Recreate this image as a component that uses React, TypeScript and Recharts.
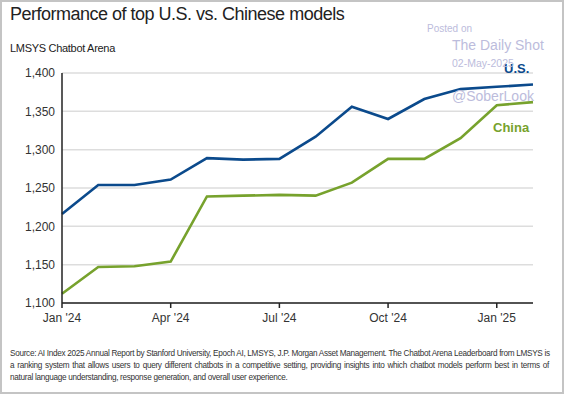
import React from "react";
import { LineChart, Line, XAxis, YAxis, CartesianGrid } from "recharts";

// month labels, Jan '24 .. Feb '25
const months = [
  "Jan '24", "Feb '24", "Mar '24", "Apr '24", "May '24", "Jun '24", "Jul '24",
  "Aug '24", "Sep '24", "Oct '24", "Nov '24", "Dec '24", "Jan '25", "Feb '25"
];
const xTicks = [0, 3, 6, 9, 12];
const yTicks = [1100, 1150, 1200, 1250, 1300, 1350, 1400];

// LMSYS Chatbot Arena scores of the best model
const usScores = [1216, 1254, 1254, 1261, 1289, 1287, 1288, 1317, 1356, 1340, 1366, 1379, 1382, 1385];
const chinaScores = [1112, 1147, 1148, 1154, 1239, 1240, 1241, 1240, 1257, 1288, 1288, 1315, 1358, 1362];

const sourceLines = [
  "Source: AI Index 2025 Annual Report by Stanford University, Epoch AI, LMSYS, J.P. Morgan Asset Management. The Chatbot Arena Leaderboard from LMSYS is",
  "a ranking system that allows users to query different chatbots in a competitive setting, providing insights into which chatbot models perform best in terms of",
  "natural language understanding, response generation, and overall user experience."
];

const BLUE = "#0b4a8c";
const GREEN = "#77a22d";
const FONT = "'Liberation Sans', Arial, sans-serif";

const data = months.map((m, i) => ({
  idx: i,
  month: m,
  us: usScores[i],
  china: chinaScores[i]
}));

const watermark: React.CSSProperties = {
  position: "absolute",
  color: "#bcbcdc",
  whiteSpace: "nowrap"
};

export default function App() {
  return (
    <div
      style={{
        position: "relative",
        width: 564,
        height: 394,
        background: "#fff",
        fontFamily: FONT,
        overflow: "hidden"
      }}
    >
      <style>{`body{margin:0}`}</style>
      <div
        style={{
          position: "absolute",
          left: 0,
          top: 0,
          width: 564,
          height: 394,
          border: "2px solid #c4c4c4",
          boxSizing: "border-box"
        }}
      />
      <div style={{ position: "absolute", left: 10, top: 4, fontSize: 18, letterSpacing: -0.5, color: "#222" }}>
        Performance of top U.S. vs. Chinese models
      </div>
      <div style={{ position: "absolute", left: 10, top: 42, fontSize: 11, letterSpacing: -0.3, color: "#222" }}>
        LMSYS Chatbot Arena
      </div>

      <div style={{ position: "absolute", left: 0, top: 0 }}>
        <LineChart
          width={564}
          height={394}
          data={data}
          margin={{ top: 73, right: 31, left: 12, bottom: 71 }}
        >
          <CartesianGrid vertical={false} stroke="#dddddd" strokeWidth={1.5} />
          <XAxis
            dataKey="idx"
            type="number"
            domain={[0, 13]}
            ticks={xTicks}
            tickFormatter={(v: number) => months[v]}
            height={20}
            tickSize={5}
            tickMargin={5}
            axisLine={{ stroke: "#222", strokeWidth: 1.5 }}
            tickLine={{ stroke: "#222", strokeWidth: 1.5 }}
            tick={{ fill: "#333", fontSize: 12 }}
          />
          <YAxis
            domain={[1100, 1400]}
            ticks={yTicks}
            width={50}
            tickSize={0}
            tickMargin={7}
            tickLine={false}
            axisLine={{ stroke: "#222", strokeWidth: 1.5 }}
            tick={{ fill: "#333", fontSize: 12 }}
            tickFormatter={(v: number) => v.toLocaleString("en-US")}
          />
          <Line
            dataKey="china"
            stroke={GREEN}
            strokeWidth={2.6}
            dot={false}
            type="linear"
            isAnimationActive={false}
          />
          <Line
            dataKey="us"
            stroke={BLUE}
            strokeWidth={2.6}
            dot={false}
            type="linear"
            isAnimationActive={false}
          />
        </LineChart>
      </div>

      <div style={{ position: "absolute", left: 504, top: 61, fontSize: 13, fontWeight: "bold", color: BLUE }}>
        U.S.
      </div>
      <div style={{ position: "absolute", left: 493, top: 120, fontSize: 13, fontWeight: "bold", color: GREEN }}>
        China
      </div>

      <div style={{ ...watermark, left: 427, top: 23, fontSize: 10 }}>Posted on</div>
      <div style={{ ...watermark, left: 452, top: 37, fontSize: 14 }}>The Daily Shot</div>
      <div style={{ ...watermark, left: 452, top: 57, fontSize: 10.5 }}>02-May-2025</div>
      <div style={{ ...watermark, left: 452, top: 88, fontSize: 14 }}>@SoberLook</div>

      <div
        style={{
          position: "absolute",
          left: 10,
          top: 348,
          width: 539,
          fontSize: 8.2,
          letterSpacing: -0.3,
          lineHeight: "11.8px",
          color: "#333",
          whiteSpace: "nowrap"
        }}
      >
        {sourceLines.map((line, i) => (
          <div
            key={i}
            style={{
              textAlign: "justify",
              textAlignLast: i < sourceLines.length - 1 ? "justify" : "left"
            }}
          >
            {line}
          </div>
        ))}
      </div>
    </div>
  );
}
